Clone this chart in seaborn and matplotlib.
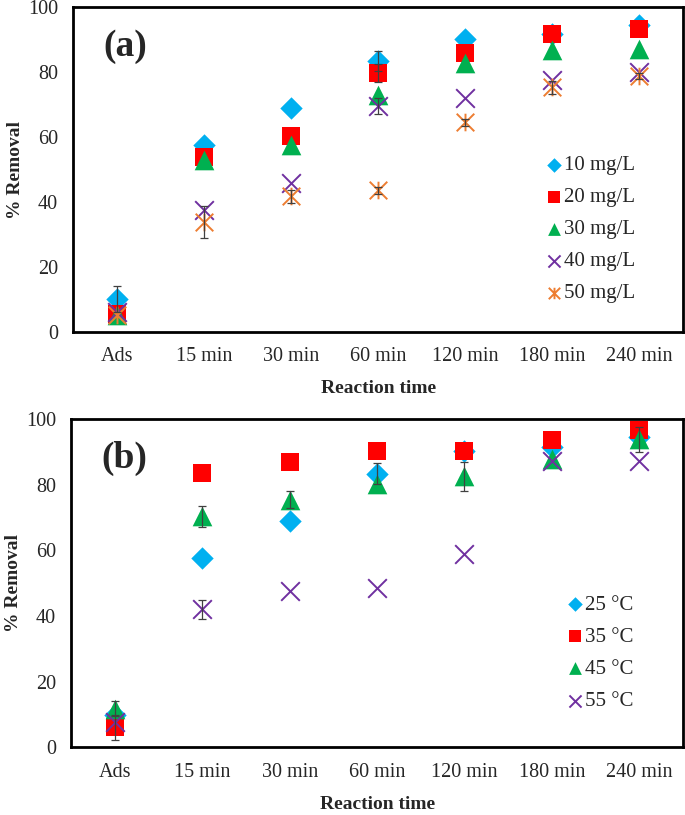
import numpy as np
import pandas as pd
import matplotlib
matplotlib.use("Agg")
import matplotlib.pyplot as plt
from matplotlib.path import Path
import seaborn as sns

# data
times = ["Ads", "15 min", "30 min", "60 min", "120 min", "180 min", "240 min"]

conc_labels = ["10 mg/L", "20 mg/L", "30 mg/L", "40 mg/L", "50 mg/L"]
conc_10 = [10.0, 57.7, 69.0, 83.4, 90.2, 91.8, 94.5]
conc_20 = [5.5, 54.0, 60.2, 79.8, 85.8, 91.7, 93.2]
conc_30 = [5.0, 53.0, 57.5, 73.0, 82.7, 86.8, 87.2]
conc_40 = [6.0, 37.4, 45.8, 69.5, 72.2, 77.5, 80.2]
conc_50 = [5.0, 33.8, 41.7, 43.6, 64.5, 75.3, 78.8]
conc_10_err = [4.0, 0, 0, 3.0, 0, 0, 0]
conc_20_err = [0, 0, 0, 2.8, 0, 0, 0]
conc_40_err = [0, 0, 0, 2.5, 0, 0, 0]
conc_50_err = [0, 5.0, 2.0, 1.0, 1.0, 2.0, 1.0]

temp_labels = ["25 °C", "35 °C", "45 °C", "55 °C"]
temp_25 = [9.7, 57.7, 69.0, 83.3, 90.2, 91.5, 94.5]
temp_35 = [6.1, 83.5, 86.8, 90.1, 90.2, 93.5, 96.7]
temp_45 = [11.8, 70.3, 75.4, 80.1, 82.5, 87.8, 93.8]
temp_55 = [7.6, 42.0, 47.5, 48.5, 59.0, 87.3, 87.1]
temp_25_err = [0, 0, 0, 3.2, 0, 0, 0]
temp_35_err = [3.8, 0, 0, 0, 0, 0, 0]
temp_45_err = [2.3, 3.3, 2.5, 0, 4.3, 0, 3.8]
temp_55_err = [0, 2.8, 0, 0, 0, 0, 0]

# asterisk marker like the spreadsheet one: X plus vertical bar
star_path = Path([(0, -1), (0, 1), (-1, -1), (1, 1), (-1, 1), (1, -1)],
                 [Path.MOVETO, Path.LINETO, Path.MOVETO, Path.LINETO,
                  Path.MOVETO, Path.LINETO])

styles = [
    dict(marker="D", color="#00B0F0", s=130, lw=0),
    dict(marker="s", color="#FF0000", s=180, lw=0),
    dict(marker="^", color="#00B050", s=200, lw=0),
    dict(marker="x", color="#7030A0", s=180, lw=1.4),
    dict(marker=star_path, color="#ED7D31", s=160, lw=1.4),
]

sns.set_style("white")
plt.rcParams["font.family"] = ["Liberation Serif", "DejaVu Serif"]

fig = plt.figure(figsize=(6.85, 8.15), dpi=100)
ax_a = fig.add_axes([0.107, 0.593, 0.890, 0.398])
ax_b = fig.add_axes([0.104, 0.083, 0.893, 0.403])

x = np.arange(len(times))


def draw_panel(ax, series, errs, labels, tag, leg_anchor):
    for vals, err, lab, st in zip(series, errs, labels, styles):
        df = pd.DataFrame({"x": x, "y": vals})
        sns.scatterplot(data=df, x="x", y="y", ax=ax, marker=st["marker"],
                        color=st["color"], s=st["s"], linewidth=st["lw"],
                        edgecolor=st["color"] if st["lw"] == 0 else None,
                        label=lab, zorder=3)
    for vals, err in zip(series, errs):
        err = np.array(err)
        m = err > 0
        if m.any():
            ax.errorbar(x[m], np.array(vals)[m], yerr=err[m], fmt="none",
                        ecolor="#404040", elinewidth=0.9, capsize=3,
                        capthick=0.9, zorder=4)

    ax.set_xlim(-0.5, len(times) - 0.5)
    ax.set_ylim(0, 100)
    ax.set_yticks([0, 20, 40, 60, 80, 100])
    ax.set_xticks(x)
    ax.set_xticklabels(times)
    ax.set_xticks(np.arange(-0.5, len(times)), minor=True)
    ax.tick_params(axis="x", which="major", length=0, labelsize=14.5, pad=11)
    ax.tick_params(axis="x", which="minor", length=5, width=0.8,
                   color="#808080", direction="out")
    ax.tick_params(axis="y", which="major", length=5, width=0.8,
                   color="#808080", direction="out", labelsize=14.5, pad=6)
    ax.set_xlabel("Reaction time", fontsize=14, fontweight="bold", labelpad=10)
    ax.set_ylabel("% Removal", fontsize=14, fontweight="bold", labelpad=3)
    for side in ["left", "bottom", "top", "right"]:
        ax.spines[side].set_visible(True)
        ax.spines[side].set_color("black")
        ax.spines[side].set_linewidth(2.0)
    ax.text(0.05, 0.88, tag, transform=ax.transAxes, fontsize=27,
            fontweight="bold", va="center", ha="left")

    ax.legend(loc="center left", bbox_to_anchor=leg_anchor, frameon=False,
              fontsize=15, markerscale=0.65, handlelength=0.6,
              handletextpad=0.15, labelspacing=0.6, borderaxespad=0)


draw_panel(ax_a, [conc_10, conc_20, conc_30, conc_40, conc_50],
           [conc_10_err, conc_20_err, [0] * 7, conc_40_err, conc_50_err],
           conc_labels, "(a)", (0.765, 0.315))
draw_panel(ax_b, [temp_25, temp_35, temp_45, temp_55],
           [temp_25_err, temp_35_err, temp_45_err, temp_55_err],
           temp_labels, "(b)", (0.8, 0.287))

fig.savefig("out.png", dpi=100)
